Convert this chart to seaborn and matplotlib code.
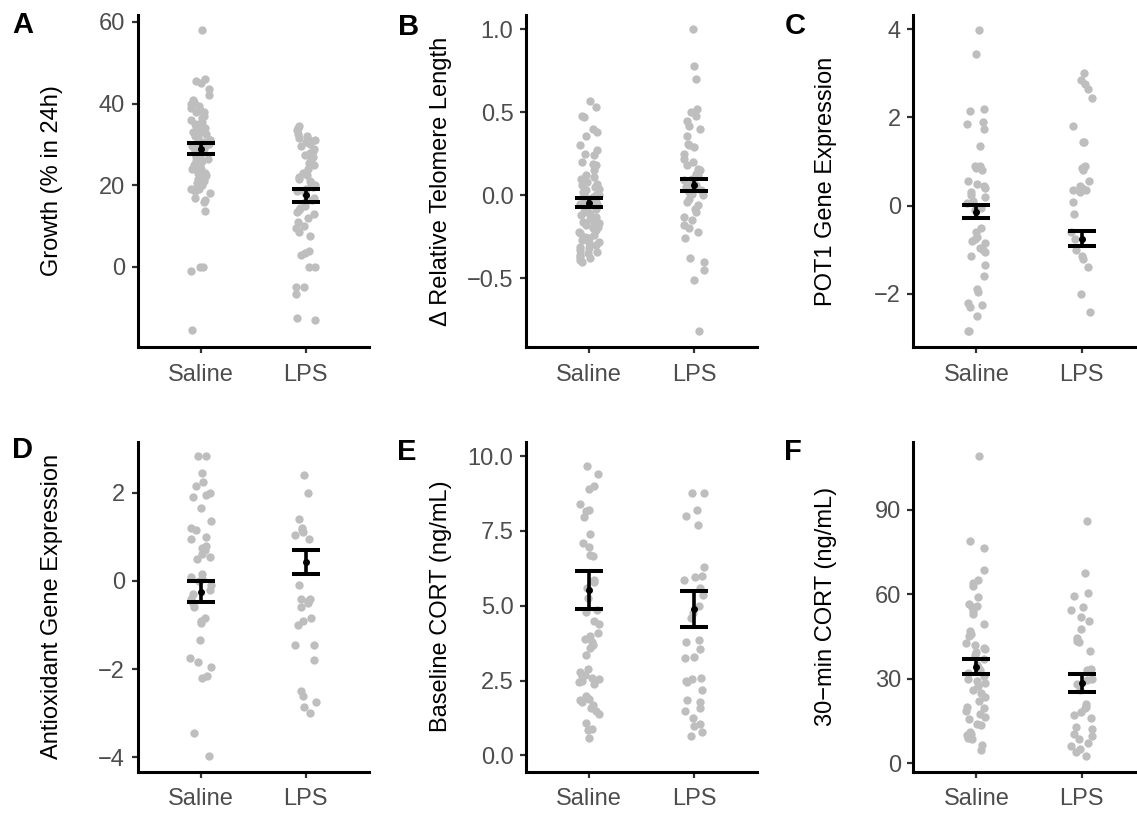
import numpy as np
import pandas as pd
import matplotlib
matplotlib.use("Agg")
import matplotlib.pyplot as plt
import seaborn as sns

# ---------------- data ----------------
groups = ["Saline", "LPS"]

growth_saline = [58, 46, 45.5, 45, 43.5, 42, 41, 40.5, 40, 39.5, 39, 38.5, 38, 38, 37, 36.5,
                 36, 35.5, 35, 35, 34.5, 34, 33.5, 33, 33, 32.5, 32, 32, 31.5, 31, 31, 30.5,
                 30, 30, 29.5, 29.5, 29, 29, 28.5, 28.5, 28, 28, 27.5, 27, 27, 26.5, 26, 26,
                 25.5, 25, 25, 24.5, 24, 24, 23.5, 23, 23, 22.5, 22, 22, 21.5, 21, 20.5, 20,
                 19.5, 19, 19, 18.5, 18, 17, 16.5, 16, 13.6, 0, 0, -1, -15.5]
growth_lps = [34.5, 34, 33.5, 32.5, 32, 31.5, 31, 31, 30.5, 30, 29.5, 29, 28.5, 28, 27.5, 27,
              26.5, 25.5, 25, 24, 23, 22.5, 22, 21.5, 21, 20.5, 20, 19.5, 19, 18.5, 18, 17,
              16.5, 16, 15, 14.5, 14, 13.5, 13, 12, 11, 10, 9.5, 8.5, 7.5, 4, 3.5, 3, 0, 0,
              -5, -5, -6.5, -12.5, -13]
growth_mean = [29.0, 17.5]
growth_se = [1.3, 1.5]

telo_saline = [0.57, 0.53, 0.48, 0.47, 0.40, 0.38, 0.36, 0.30, 0.27, 0.25, 0.24, 0.20, 0.19,
               0.18, 0.15, 0.12, 0.11, 0.10, 0.09, 0.08, 0.07, 0.06, 0.05, 0.05, 0.04, 0.03,
               0.02, 0.01, 0.0, 0.0, -0.01, -0.02, -0.03, -0.04, -0.05, -0.05, -0.06, -0.07,
               -0.08, -0.09, -0.10, -0.10, -0.11, -0.12, -0.13, -0.14, -0.15, -0.16, -0.17,
               -0.18, -0.18, -0.19, -0.20, -0.21, -0.22, -0.23, -0.24, -0.25, -0.26, -0.27,
               -0.28, -0.29, -0.30, -0.31, -0.32, -0.33, -0.34, -0.35, -0.36, -0.37, -0.38,
               -0.39, -0.40]
telo_lps = [1.0, 0.78, 0.70, 0.52, 0.50, 0.48, 0.45, 0.42, 0.40, 0.36, 0.31, 0.30, 0.29, 0.25,
            0.22, 0.20, 0.18, 0.16, 0.15, 0.13, 0.12, 0.10, 0.09, 0.08, 0.07, 0.06, 0.05, 0.04,
            0.03, 0.02, 0.01, 0.0, -0.02, -0.04, -0.06, -0.08, -0.10, -0.13, -0.15, -0.18,
            -0.20, -0.22, -0.26, -0.38, -0.40, -0.45, -0.51, -0.82]
telo_mean = [-0.045, 0.063]
telo_se = [0.027, 0.037]

pot1_saline = [3.98, 3.45, 2.2, 2.15, 1.9, 1.85, 1.75, 1.35, 0.9, 0.9, 0.85, 0.8, 0.55, 0.5,
               0.45, 0.4, 0.3, 0.25, 0.2, 0.1, 0.05, -0.05, -0.1, -0.5, -0.6, -0.7, -0.75,
               -0.8, -0.85, -0.95, -1.0, -1.05, -1.15, -1.35, -1.6, -1.9, -1.95, -2.2, -2.25,
               -2.3, -2.5, -2.83, -2.83]
pot1_lps = [3.0, 2.85, 2.75, 2.65, 2.45, 1.8, 1.45, 1.45, 0.9, 0.85, 0.8, 0.55, 0.45, 0.4,
            0.35, 0.35, 0.3, 0.08, -0.18, -0.6, -0.75, -1.0, -1.15, -1.2, -1.4, -2.0, -2.4]
pot1_mean = [-0.14, -0.75]
pot1_se = [0.15, 0.17]

anti_saline = [2.84, 2.84, 2.45, 2.25, 2.15, 2.0, 1.95, 1.9, 1.65, 1.35, 1.2, 1.15, 1.0, 0.95,
               0.8, 0.75, 0.7, 0.6, 0.55, 0.5, 0.15, 0.1, 0.05, 0.0, -0.1, -0.2, -0.3, -0.4,
               -0.5, -0.6, -0.85, -0.9, -0.95, -1.35, -1.75, -1.85, -1.95, -2.15, -2.2,
               -3.45, -3.98]
anti_lps = [2.4, 2.0, 1.4, 1.2, 1.15, 1.1, 1.05, 0.95, -0.1, -0.45, -0.5, -0.4, -0.4, -0.6,
            -0.85, -0.9, -1.0, -1.45, -1.45, -1.8, -2.5, -2.6, -2.75, -2.85, -3.0]
anti_mean = [-0.24, 0.43]
anti_se = [0.24, 0.28]

base_saline = [9.67, 9.4, 9.0, 8.9, 8.4, 8.15, 8.2, 7.95, 7.4, 7.1, 6.95, 6.7, 6.65, 5.85, 5.8,
               5.6, 5.25, 4.85, 4.8, 4.5, 4.4, 4.1, 4.0, 3.9, 3.8, 3.7, 3.6, 3.35, 2.9, 2.8,
               2.7, 2.65, 2.6, 2.55, 2.5, 2.45, 2.4, 2.0, 1.9, 1.85, 1.8, 1.7, 1.6, 1.5, 1.4,
               1.1, 0.9, 0.85, 0.6]
base_lps = [8.75, 8.75, 8.2, 8.0, 7.7, 6.3, 6.0, 5.95, 5.85, 5.6, 5.35, 5.0, 4.75, 4.6, 3.85,
            3.8, 3.55, 3.3, 3.25, 2.6, 2.55, 2.5, 2.45, 2.2, 1.85, 1.8, 1.6, 1.5, 1.25, 1.05,
            1.0, 0.8, 0.65]
base_mean = [5.53, 4.9]
base_se = [0.64, 0.6]

cort30_saline = [109, 79, 76.5, 68.5, 65, 64, 63, 59, 56.5, 56, 55.5, 54, 53, 49.5, 47, 46, 45,
                 42.5, 42, 41, 40.5, 39.5, 38.5, 37, 35, 34, 33, 32, 31, 30, 29, 28.5, 27.5,
                 26, 25, 23.5, 22, 20, 19.5, 18.5, 17.5, 16.5, 15.5, 14, 13.5, 11, 10.5, 10,
                 9.5, 9, 8.5, 6.5, 4.5]
cort30_lps = [86, 67.5, 60.5, 59.5, 55.5, 54.5, 52, 50.5, 47.5, 44.5, 43.5, 43, 40, 33.5, 33,
              30, 29.5, 28, 26, 21, 20, 19.5, 18, 17, 16, 13, 12, 10.5, 9.5, 8.5, 7, 6, 5, 4,
              2.5]
cort30_mean = [34.2, 28.4]
cort30_se = [2.7, 3.2]

panel_letters = ["A", "B", "C", "D", "E", "F"]
ylabels = ["Growth (% in 24h)", "\u0394 Relative Telomere Length", "POT1 Gene Expression",
           "Antioxidant Gene Expression", "Baseline CORT (ng/mL)", "30\u2212min CORT (ng/mL)"]
yticks_list = [[0, 20, 40, 60], [-0.5, 0.0, 0.5, 1.0], [-2, 0, 2, 4],
               [-4, -2, 0, 2], [0.0, 2.5, 5.0, 7.5, 10.0], [0, 30, 60, 90]]
ytick_fmt = ["{:.0f}", "{:.1f}", "{:.0f}", "{:.0f}", "{:.1f}", "{:.0f}"]

# ---------------- style ----------------
sns.set_style("ticks")
plt.rcParams["font.family"] = ["Liberation Sans", "DejaVu Sans"]
plt.rcParams["axes.unicode_minus"] = True

POINT = "#BEBEBE"
W, H = 1137, 816
fig = plt.figure(figsize=(W / 100, H / 100), dpi=100)

# axes rectangles in pixels: left, top, bottom
col_left = [137.5, 526, 913.5]
col_label_x = [52, 441, 826]
row_top = [15, 441.7]
row_bot = [347, 771.5]
ax_w = 231
ylims = [(-19.6, 61.7), (-0.914, 1.086), (-3.204, 4.324),
         (-4.324, 3.159), (-0.535, 10.48), (-2.98, 114.2)]
letter_pos = [(12, 11), (398, 13), (785, 12), (12, 436), (397, 438), (784, 438)]

data = [(growth_saline, growth_lps, growth_mean, growth_se),
        (telo_saline, telo_lps, telo_mean, telo_se),
        (pot1_saline, pot1_lps, pot1_mean, pot1_se),
        (anti_saline, anti_lps, anti_mean, anti_se),
        (base_saline, base_lps, base_mean, base_se),
        (cort30_saline, cort30_lps, cort30_mean, cort30_se)]

np.random.seed(3)
for i, (sal, lps, mean, se) in enumerate(data):
    r, c = divmod(i, 3)
    left = col_left[c]
    top, bot = row_top[r], row_bot[r]
    ax = fig.add_axes([left / W, 1 - bot / H, ax_w / W, (bot - top) / H])
    df = pd.DataFrame({"group": ["Saline"] * len(sal) + ["LPS"] * len(lps),
                       "value": list(sal) + list(lps)})
    sns.stripplot(data=df, x="group", y="value", order=groups, color=POINT, size=6,
                  jitter=0.1, linewidth=0, ax=ax, zorder=2)
    xpos = np.arange(len(groups))
    ax.errorbar(xpos, mean, yerr=se, fmt="o", color="black", ms=4, capsize=10,
                elinewidth=2.6, capthick=2.9, zorder=4)
    ax.set_xlim(-0.6, 1.6)
    ax.set_ylim(*ylims[i])
    ax.set_yticks(yticks_list[i])
    ax.set_yticklabels([ytick_fmt[i].format(v).replace("-", "\u2212") for v in yticks_list[i]])
    ax.set_xlabel("")
    ax.set_ylabel(ylabels[i], fontsize=17, color="black", va="center")
    ax.yaxis.set_label_coords(col_label_x[c] / W, 1 - (top + bot) / 2 / H,
                              transform=fig.transFigure)
    sns.despine(ax=ax)
    for s in ["left", "bottom"]:
        ax.spines[s].set_linewidth(2.2)
        ax.spines[s].set_color("black")
    ax.tick_params(axis="both", colors="#333333", labelcolor="#4D4D4D", labelsize=17,
                   length=4, width=1.6)
    ax.tick_params(axis="y", pad=5)
    ax.tick_params(axis="x", pad=8)
    ax.set_facecolor("white")
    fig.text(letter_pos[i][0] / W, 1 - letter_pos[i][1] / H, panel_letters[i],
             fontsize=21, fontweight="bold", ha="left", va="top", color="black")

fig.savefig("out.png", dpi=100, facecolor="white")
